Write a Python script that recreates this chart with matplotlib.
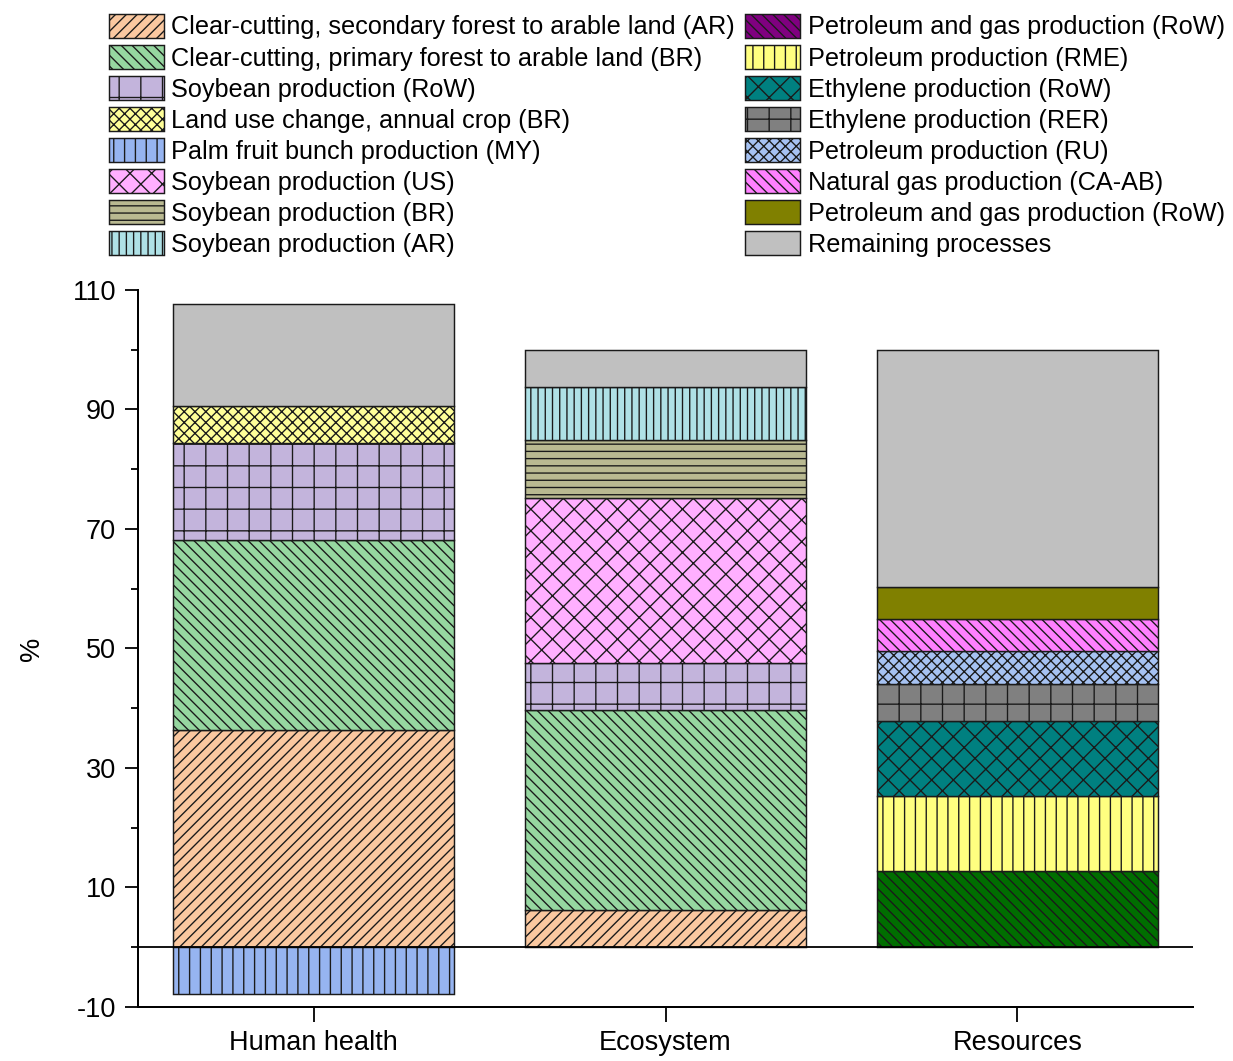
import matplotlib
matplotlib.use("Agg")
import matplotlib.pyplot as plt
from matplotlib.patches import Patch

plt.rcParams['font.family'] = ['Liberation Sans', 'DejaVu Sans']
plt.rcParams['hatch.linewidth'] = 0.75
plt.rcParams['axes.unicode_minus'] = False

categories = ["Human health", "Ecosystem", "Resources"]

processes = [
    "Clear-cutting, secondary forest to arable land (AR)",
    "Clear-cutting, primary forest to arable land (BR)",
    "Soybean production (RoW)",
    "Land use change, annual crop (BR)",
    "Palm fruit bunch production (MY)",
    "Soybean production (US)",
    "Soybean production (BR)",
    "Soybean production (AR)",
    "Petroleum and gas production (RoW)",
    "Petroleum production (RME)",
    "Ethylene production (RoW)",
    "Ethylene production (RER)",
    "Petroleum production (RU)",
    "Natural gas production (CA-AB)",
    "Petroleum and gas production (RoW)",
    "Remaining processes",
]

# contribution (%) of each process, one list per impact category
human_health = [36.3, 31.8, 16.3, 6.2, -7.9, 0, 0, 0,
                0, 0, 0, 0, 0, 0, 0, 17.1]
ecosystem = [6.2, 33.5, 7.9, 0, 0, 27.6, 9.7, 8.9,
             0, 0, 0, 0, 0, 0, 0, 6.2]
resources = [0, 0, 0, 0, 0, 0, 0, 0,
             12.7, 12.6, 12.5, 6.2, 5.5, 5.4, 5.4, 39.6]

colors = ["#FAC8A0", "#96D7A0", "#C3B4DC", "#FFFF99", "#96B4F0", "#FFAFFF",
          "#B9B991", "#AFE1E6", "#006E00", "#FFFF80", "#008080", "#808080",
          "#A6C2F2", "#FF80FF", "#808000", "#C0C0C0"]
hatches = ["////", "\\\\\\\\", "+", "xxxx", "||", "xx", "---", "|||",
           "\\\\\\\\", "||", "xx", "+", "xxxx", "\\\\\\\\", "", ""]
legend_colors = list(colors)
legend_colors[8] = "#800080"

DPI = 130
fig = plt.figure(figsize=(1233 / DPI, 1061 / DPI), dpi=DPI)
ax = fig.add_axes([0.1119, 0.0509, 0.8557, 0.6758])

data = [human_health, ecosystem, resources]
for i, vals in enumerate(data):
    pos, neg = 0.0, 0.0
    for j, v in enumerate(vals):
        if v == 0:
            continue
        base = pos if v > 0 else neg
        ax.bar(i, v, bottom=base, width=0.8, color=colors[j],
               hatch=hatches[j], edgecolor="#1a1a1a", linewidth=0.8)
        if v > 0:
            pos += v
        else:
            neg += v

ax.axhline(0, color="black", lw=1.0)

ax.set_xlim(-0.5, 2.5)
ax.set_ylim(-10, 110)
ax.set_xticks(range(len(categories)))
ax.set_xticklabels(categories)
ax.set_yticks(range(-10, 111, 20))
ax.set_yticks(range(0, 101, 20), minor=True)
ax.set_ylabel("%", fontsize=15)
ax.yaxis.set_label_coords(-0.088, 0.5)

for side in ("top", "right"):
    ax.spines[side].set_visible(False)
for side in ("left", "bottom"):
    ax.spines[side].set_linewidth(1.1)
ax.tick_params(axis="y", which="major", length=7.2, width=1.0,
               labelsize=15, pad=5)
ax.tick_params(axis="y", which="minor", length=3.9, width=1.0)
ax.tick_params(axis="x", length=8.5, width=1.0, labelsize=15, pad=4)

handles = [Patch(facecolor=legend_colors[j], hatch=hatches[j],
                 edgecolor="#1a1a1a", linewidth=0.8)
           for j in range(len(processes))]
fig.legend(handles, processes, loc="upper left",
           bbox_to_anchor=(0.082, 0.994), ncol=2, frameon=False,
           fontsize=14, handlelength=2.18, handleheight=1.07,
           handletextpad=0.3, labelspacing=0.22, columnspacing=0.4,
           borderpad=0.3, borderaxespad=0)

fig.savefig("out.png", dpi=DPI)
